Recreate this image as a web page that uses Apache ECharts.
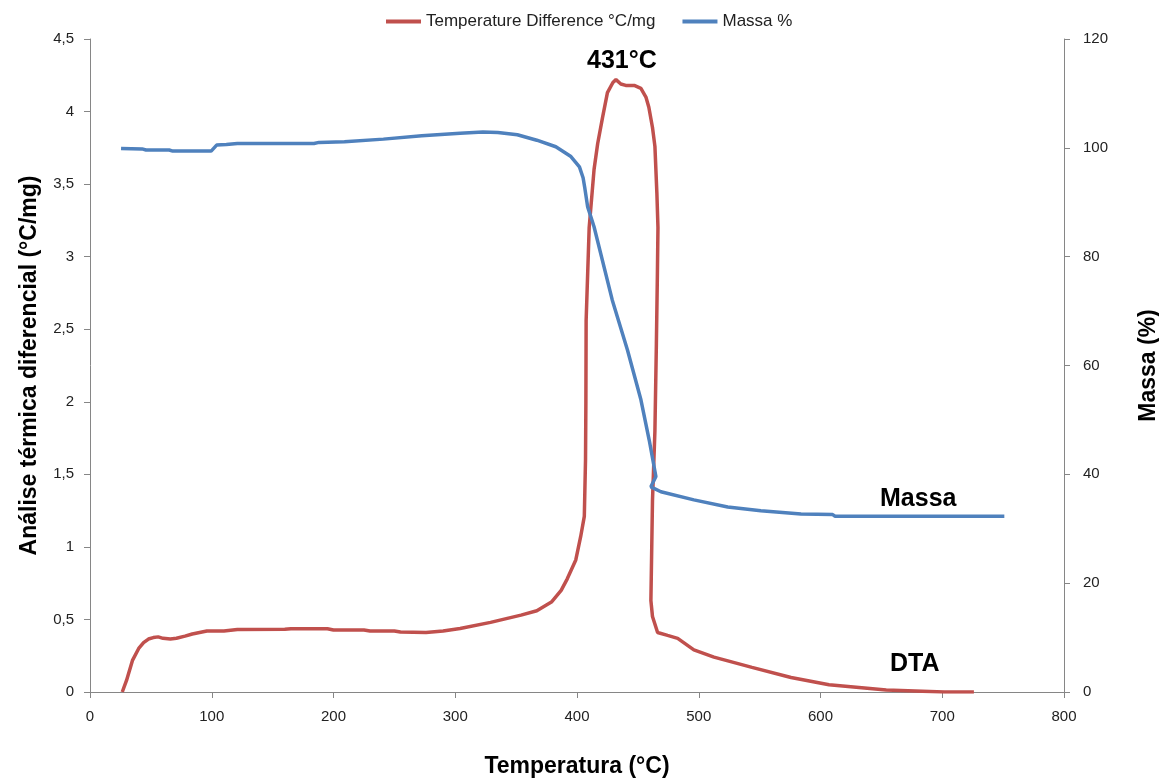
<!DOCTYPE html>
<html>
<head>
<meta charset="utf-8">
<script src="https://cdn.jsdelivr.net/npm/echarts@6.0.0/dist/echarts.min.js"></script>
<style>
  html, body { margin: 0; padding: 0; background: #fff; overflow: hidden; }
  #chart { width: 1159px; height: 780px; }
</style>
</head>
<body>
<div id="chart"></div>
<script>
// DTA curve (temperature °C, difference °C/mg)
var dtaTemp = [26.5, 30, 35, 40, 44, 48, 52, 56, 60, 66, 71, 78, 84, 90, 96, 110, 121, 160, 165, 195,
  200, 225, 230, 250, 255, 276, 290, 304, 329, 354, 367, 379, 387, 392, 399, 403, 406, 407, 407.3, 407.5,
  410, 414, 417, 421, 425, 429.5, 432, 436, 440, 447, 452.5, 456.6, 459, 462, 464, 465.6, 466.5, 466, 465.2, 464,
  462, 460.7, 462, 466.2, 474.4, 482.7, 496, 512.5, 543.7, 575.8, 607, 654, 701.6, 726];
var dtaValue = [0, 0.08, 0.22, 0.30, 0.34, 0.365, 0.375, 0.38, 0.37, 0.365, 0.37, 0.385, 0.40, 0.41, 0.42, 0.42, 0.43, 0.432, 0.436, 0.436,
  0.427, 0.427, 0.42, 0.42, 0.413, 0.41, 0.42, 0.437, 0.48, 0.53, 0.56, 0.62, 0.70, 0.78, 0.91, 1.07, 1.21, 1.6, 2.0, 2.56,
  3.20, 3.60, 3.78, 3.96, 4.13, 4.20, 4.22, 4.19, 4.18, 4.18, 4.16, 4.10, 4.03, 3.89, 3.76, 3.44, 3.20, 2.86, 2.4, 1.8,
  1.32, 0.63, 0.52, 0.41, 0.39, 0.37, 0.29, 0.24, 0.17, 0.10, 0.05, 0.014, 0, 0];

// Mass curve (temperature °C, mass %)
var massaTemp = [25.5, 42.8, 46, 65, 68, 99.5, 104, 112, 121, 184, 188, 209, 241, 272.5, 304, 322.7, 335, 351, 367, 382.6,
  395, 402, 405, 406.5, 408.7, 414, 429, 441.5, 452.5, 459.3, 464.8, 460.7, 468.9, 496, 523.8, 551, 584, 610, 612, 751];
var massaValue = [99.9, 99.8, 99.6, 99.6, 99.4, 99.4, 100.5, 100.6, 100.8, 100.8, 101.0, 101.1, 101.6, 102.2, 102.7, 102.9, 102.8, 102.4, 101.4, 100.2,
  98.4, 96.5, 94.5, 92.5, 89.2, 85.5, 72.0, 62.8, 53.7, 46.3, 39.6, 37.7, 36.8, 35.3, 34.0, 33.3, 32.7, 32.6, 32.3, 32.3];

var seriesNames = ["Temperature Difference °C/mg", "Massa %"];

var dtaData = dtaTemp.map((t, i) => [t, dtaValue[i]]);
var massaData = massaTemp.map((t, i) => [t, massaValue[i]]);

var axisColor = "#868686";
var labelStyle = { fontFamily: "Liberation Sans", fontSize: 15, color: "#222" };
var titleStyle = { fontFamily: "Liberation Sans", fontSize: 23, fontWeight: "bold", color: "#000" };

var myChart = echarts.init(document.getElementById("chart"));
var option = {
  backgroundColor: "#fff",
  animation: false,
  legend: {
    data: seriesNames,
    left: 381,
    top: 8,
    icon: "rect",
    itemWidth: 35,
    itemHeight: 4,
    itemGap: 27,
    textStyle: { fontFamily: "Liberation Sans", fontSize: 17, color: "#222" },
  },
  grid: { left: 90, right: 95, top: 39, bottom: 88, outerBoundsMode: "none" },
  xAxis: {
    type: "value",
    min: 0,
    max: 800,
    interval: 100,
    name: "Temperatura (°C)",
    nameLocation: "middle",
    nameGap: 63,
    nameTextStyle: titleStyle,
    axisLine: { lineStyle: { color: axisColor } },
    axisTick: { show: true, length: 6, lineStyle: { color: axisColor } },
    axisLabel: Object.assign({ margin: 17 }, labelStyle),
    splitLine: { show: false },
  },
  yAxis: [
    {
      type: "value",
      min: 0,
      max: 4.5,
      interval: 0.5,
      name: "Análise térmica diferencial (°C/mg)",
      nameLocation: "middle",
      nameGap: 49,
      nameTextStyle: titleStyle,
      axisLine: { show: true, lineStyle: { color: axisColor } },
      axisTick: { show: true, length: 6, lineStyle: { color: axisColor } },
      axisLabel: Object.assign({ margin: 16, formatter: (v) => String(v).replace(".", ",") }, labelStyle),
      splitLine: { show: false },
    },
    {
      type: "value",
      min: 0,
      max: 120,
      interval: 20,
      name: "Massa (%)",
      nameLocation: "middle",
      nameGap: 73,
      nameTextStyle: titleStyle,
      axisLine: { show: true, lineStyle: { color: axisColor } },
      axisTick: { show: true, length: 6, lineStyle: { color: axisColor } },
      axisLabel: Object.assign({ margin: 19 }, labelStyle),
      splitLine: { show: false },
    },
  ],
  series: [
    {
      name: seriesNames[0],
      type: "line",
      yAxisIndex: 0,
      data: dtaData,
      showSymbol: false,
      smooth: false,
      color: "#C0504D",
      lineStyle: { width: 3.5, color: "#C0504D" },
    },
    {
      name: seriesNames[1],
      type: "line",
      yAxisIndex: 1,
      data: massaData,
      showSymbol: false,
      smooth: false,
      color: "#4F81BD",
      lineStyle: { width: 3.5, color: "#4F81BD" },
    },
  ],
  graphic: [
    { type: "text", left: 587, top: 49, style: { text: "431°C", font: "bold 25px 'Liberation Sans'", fill: "#000" } },
    { type: "text", left: 880, top: 487, style: { text: "Massa", font: "bold 25px 'Liberation Sans'", fill: "#000" } },
    { type: "text", left: 890, top: 652, style: { text: "DTA", font: "bold 25px 'Liberation Sans'", fill: "#000" } },
  ],
};
myChart.setOption(option);
</script>
</body>
</html>
